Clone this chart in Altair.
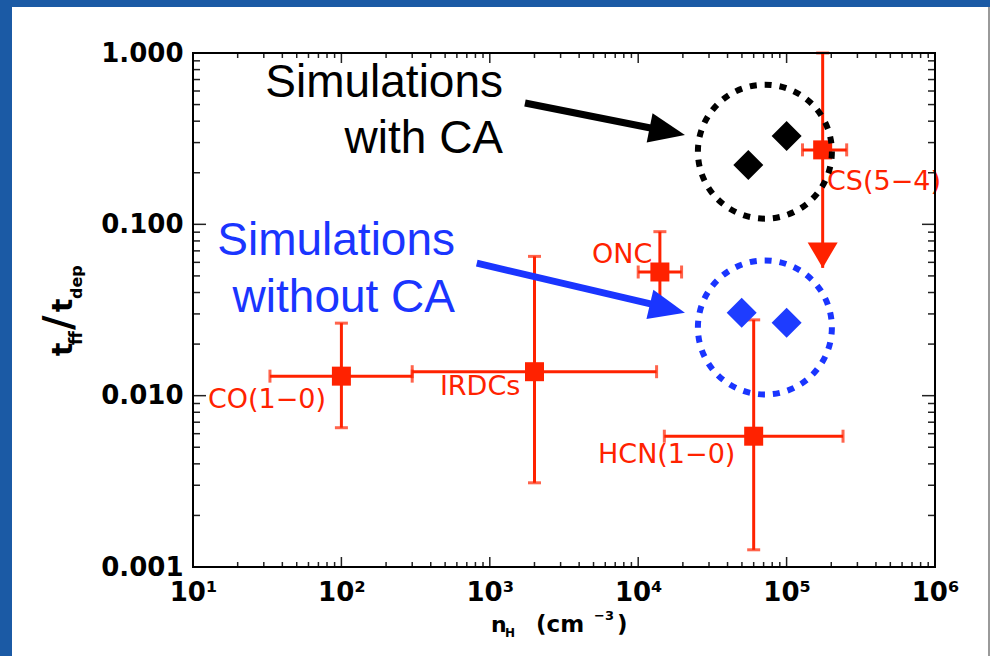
import altair as alt
import pandas as pd

# ---------------- data ----------------
obs_names = ["CO(1−0)", "IRDCs", "ONC", "HCN(1−0)", "CS(5−4)"]
obs_n = [100, 2000, 14000, 60000, 175000]
obs_eff = [0.0130, 0.0138, 0.0527, 0.0058, 0.272]
obs_n_lo = [33, 300, 10000, 15000, 128000]
obs_n_hi = [300, 13300, 19600, 240000, 254000]
obs_eff_lo = [0.0065, 0.0031, 0.031, 0.00126, 0.0557]
obs_eff_hi = [0.0265, 0.065, 0.0906, 0.0277, 1.0]
obs_upper_limit = [False, False, False, False, True]
label_n = [12.6, 461, 4887, 5357, 187000]
label_eff = [0.00848, 0.01009, 0.05953, 0.004045, 0.1589]

sim_ca_n = [55200, 100000]
sim_ca_eff = [0.222, 0.328]
sim_noca_n = [49800, 100000]
sim_noca_eff = [0.0305, 0.0266]

# annotations (data coordinates)
ring_n = [71400, 71400]
ring_eff = [0.2655, 0.0250]
ring_color = ["black", "#1a35ff"]
arrow_n0 = [1726, 817]
arrow_eff0 = [0.511, 0.0593]
arrow_n1 = [13090, 13150]
arrow_eff1 = [0.3599, 0.0338]
arrow_tip_n = [20650, 20650]
arrow_tip_eff = [0.3326, 0.0305]
arrow_angle = [11.3, 13.3]
arrow_color = ["black", "#1a35ff"]
note_text = ["Simulations", "with CA", "Simulations", "without CA"]
note_n = [1228, 1228, 583, 583]
note_eff = [0.5544, 0.2612, 0.0663, 0.0309]
note_color = ["black", "black", "#1a35ff", "#1a35ff"]

x_major = [10, 100, 1000, 10000, 100000, 1000000]
x_minor = [k * 10 ** e for e in range(1, 6) for k in range(2, 10)]
y_major = [0.001, 0.01, 0.1, 1.0]
y_minor = [k * 10.0 ** e for e in range(-3, 0) for k in range(2, 10)]

RED = "#ff2200"
W, H = 742, 514

xs = alt.Scale(type="log", domain=[10, 1e6], nice=False)
ys = alt.Scale(type="log", domain=[0.001, 1], nice=False)
xaxis = alt.Axis(
    values=x_major,
    labelExpr="'10' + ['⁰','¹','²','³','⁴','⁵','⁶'][round(log(datum.value)/LN10)]",
    ticks=False, domain=False, grid=False, labelFlush=False, labelOverlap=False,
    labelFont="DejaVu Sans", labelFontWeight="bold", labelFontSize=26, labelColor="black",
    labelPadding=12, title=None, zindex=1,
)
yaxis = alt.Axis(
    values=y_major, labelExpr="format(datum.value, '.3f')",
    ticks=False, domain=False, grid=False, labelFlush=False, labelOverlap=False,
    labelFont="DejaVu Sans", labelFontWeight="bold", labelFontSize=26, labelColor="black",
    labelPadding=10, title=None, zindex=1,
)


def X(f):
    return alt.X(f, type="quantitative", scale=xs, axis=xaxis)


def Y(f):
    return alt.Y(f, type="quantitative", scale=ys, axis=yaxis)


one = pd.DataFrame({"k": [0]})
obs = pd.DataFrame(dict(name=obs_names, n=obs_n, eff=obs_eff, n_lo=obs_n_lo, n_hi=obs_n_hi,
                        eff_lo=obs_eff_lo, eff_hi=obs_eff_hi, lab_n=label_n, lab_eff=label_eff))
xcap = pd.DataFrame({"n": obs_n_lo + obs_n_hi, "eff": obs_eff + obs_eff})
yc_n, yc_e = [], []
for n, lo, hi, ul in zip(obs_n, obs_eff_lo, obs_eff_hi, obs_upper_limit):
    yc_n.append(n); yc_e.append(hi)
    if not ul:
        yc_n.append(n); yc_e.append(lo)
ycap = pd.DataFrame({"n": yc_n, "eff": yc_e})
ulim = pd.DataFrame({"n": [n for n, u in zip(obs_n, obs_upper_limit) if u],
                     "eff": [e for e, u in zip(obs_eff_lo, obs_upper_limit) if u]})
sims_ca = pd.DataFrame({"n": sim_ca_n, "eff": sim_ca_eff})
sims_noca = pd.DataFrame({"n": sim_noca_n, "eff": sim_noca_eff})
rings = pd.DataFrame({"n": ring_n, "eff": ring_eff, "c": ring_color})
arrows = pd.DataFrame({"n0": arrow_n0, "e0": arrow_eff0, "n1": arrow_n1, "e1": arrow_eff1,
                       "tn": arrow_tip_n, "te": arrow_tip_eff, "a": arrow_angle, "c": arrow_color})
notes = pd.DataFrame({"t": note_text, "n": note_n, "eff": note_eff, "c": note_color})

panel = alt.Chart(one).mark_rect(fill="white").encode(
    x=alt.value(-181), x2=alt.value(795), y=alt.value(-46), y2=alt.value(610))
panel_edge = alt.Chart(one).mark_rule(color="#9a9a9a", strokeWidth=2).encode(
    x=alt.value(796), y=alt.value(-46), y2=alt.value(610))

hbar = alt.Chart(obs).mark_rule(color=RED, strokeWidth=3).encode(
    x=X("n_lo"), x2="n_hi", y=Y("eff"))
vbar = alt.Chart(obs).mark_rule(color=RED, strokeWidth=3).encode(
    x=X("n"), y=Y("eff_lo"), y2="eff_hi")
xcaps = alt.Chart(xcap).mark_tick(color=RED, orient="vertical", size=13, thickness=3).encode(
    x=X("n"), y=Y("eff"))
ycaps = alt.Chart(ycap).mark_tick(color=RED, orient="horizontal", size=13, thickness=3).encode(
    x=X("n"), y=Y("eff"))
squares = alt.Chart(obs).mark_point(shape="square", filled=True, color=RED, size=361, opacity=1).encode(
    x=X("n"), y=Y("eff"))
ulhead = alt.Chart(ulim).mark_point(shape="M0,0 L-1,-1.7 L1,-1.7 Z", filled=True, color=RED,
                                    size=900, opacity=1, strokeWidth=0).encode(x=X("n"), y=Y("eff"))
labels = alt.Chart(obs).mark_text(color=RED, font="DejaVu Sans", fontSize=27, align="left",
                                  baseline="alphabetic").encode(x=X("lab_n"), y=Y("lab_eff"), text="name")

ring_layer = alt.Chart(rings).mark_point(shape="circle", filled=False, size=17956, strokeWidth=6,
                                         strokeDash=[7, 8], opacity=1).encode(
    x=X("n"), y=Y("eff"), color=alt.Color("c:N", scale=None))
shafts = alt.Chart(arrows).mark_rule(strokeWidth=7).encode(
    x=X("n0"), x2="n1", y=Y("e0"), y2="e1", color=alt.Color("c:N", scale=None))
heads = alt.Chart(arrows).mark_point(shape="M0,0 L-2.4,-1 L-2.4,1 Z", filled=True, size=900,
                                     opacity=1, strokeWidth=0).encode(
    x=X("tn"), y=Y("te"), angle=alt.Angle("a:Q", scale=None), color=alt.Color("c:N", scale=None))

d_ca = alt.Chart(sims_ca).mark_point(shape="diamond", filled=True, color="black", size=900,
                                     opacity=1).encode(x=X("n"), y=Y("eff"))
d_noca = alt.Chart(sims_noca).mark_point(shape="diamond", filled=True, color="#1e3cff", size=900,
                                         opacity=1).encode(x=X("n"), y=Y("eff"))
note_layer = alt.Chart(notes).mark_text(font="Liberation Sans", fontSize=46, align="right",
                                        baseline="alphabetic").encode(
    x=X("n"), y=Y("eff"), text="t", color=alt.Color("c:N", scale=None))

TC = "#222222"
xmaj = pd.DataFrame({"v": x_major})
xmin = pd.DataFrame({"v": x_minor})
ymaj = pd.DataFrame({"v": y_major})
ymin = pd.DataFrame({"v": y_minor})
ticks = [
    alt.Chart(xmaj).mark_rule(color=TC, strokeWidth=1.5).encode(x=X("v"), y=alt.value(H), y2=alt.value(H - 10)),
    alt.Chart(xmaj).mark_rule(color=TC, strokeWidth=1.5).encode(x=X("v"), y=alt.value(0), y2=alt.value(10)),
    alt.Chart(xmin).mark_rule(color=TC, strokeWidth=1.5).encode(x=X("v"), y=alt.value(H), y2=alt.value(H - 5)),
    alt.Chart(xmin).mark_rule(color=TC, strokeWidth=1.5).encode(x=X("v"), y=alt.value(0), y2=alt.value(5)),
    alt.Chart(ymaj).mark_rule(color=TC, strokeWidth=1.5).encode(y=Y("v"), x=alt.value(0), x2=alt.value(13)),
    alt.Chart(ymaj).mark_rule(color=TC, strokeWidth=1.5).encode(y=Y("v"), x=alt.value(W), x2=alt.value(W - 13)),
    alt.Chart(ymin).mark_rule(color=TC, strokeWidth=1.5).encode(y=Y("v"), x=alt.value(0), x2=alt.value(7)),
    alt.Chart(ymin).mark_rule(color=TC, strokeWidth=1.5).encode(y=Y("v"), x=alt.value(W), x2=alt.value(W - 7)),
]
frame = alt.Chart(one).mark_rect(fill=None, stroke="black", strokeWidth=2).encode(
    x=alt.value(0), x2=alt.value(W), y=alt.value(0), y2=alt.value(H))


def piece(txt, x, y, size, angle=0):
    return alt.Chart(one).mark_text(text=txt, angle=angle, align="left", baseline="alphabetic",
                                    font="DejaVu Sans", fontWeight="bold", fontSize=size,
                                    color="black").encode(x=alt.value(x), y=alt.value(y))


# y-axis title  t_ff / t_dep  (rotated)
ytitles = [
    piece("t", -121, 303, 28, 270),
    piece("ff", -111, 292, 17, 270),
    piece("/", -121, 277, 40, 270),
    piece("t", -121, 259, 28, 270),
    piece("dep", -111, 246, 16, 270),
]
# x-axis title  n_H (cm^-3)
xtitles = [
    piece("n", 298, 579, 22),
    piece("H", 312, 584, 12),
    piece("(cm", 343, 579, 23),
    piece("−3", 401, 567, 13),
    piece(")", 424, 579, 23),
]

chart = alt.layer(
    panel, panel_edge, hbar, vbar, xcaps, ycaps, squares, ulhead, labels,
    ring_layer, shafts, heads, d_ca, d_noca, note_layer, *ticks, frame, *ytitles, *xtitles
).properties(
    width=W, height=H,
    autosize=alt.AutoSizeParams(type="none"),
    padding={"left": 193, "top": 53, "right": 55, "bottom": 89},
    background="#1b5aa5",
).configure_view(strokeWidth=0)

chart.save("out.html", embed_options={"renderer": "svg", "actions": False})
